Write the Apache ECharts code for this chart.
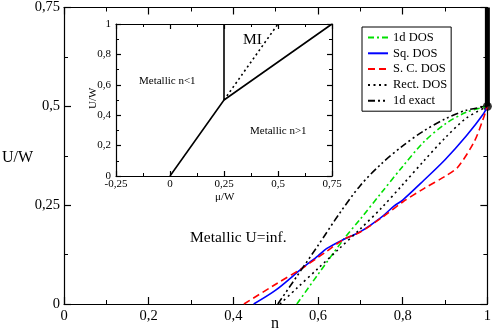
<!DOCTYPE html>
<html>
<head>
<meta charset="utf-8">
<script src="https://cdn.jsdelivr.net/npm/echarts@6/dist/echarts.min.js"></script>
<style>
  html, body { margin: 0; padding: 0; background: #fff; }
  #chart { width: 494px; height: 334px; }
</style>
</head>
<body>
<div id="chart"></div>
<script>
// main plot: U/W vs n for U = inf
const n1d = [0.55, 0.6, 0.66, 0.7, 0.75, 0.8, 0.85, 0.9, 0.95, 1]
const u1d = [0, 0.075, 0.163, 0.215, 0.282, 0.348, 0.41, 0.455, 0.485, 0.5]

const nSq = [0.448, 0.5, 0.562, 0.6, 0.62, 0.66, 0.7, 0.75, 0.78, 0.8, 0.85, 0.9, 0.95, 0.99, 1]
const uSq = [0, 0.035, 0.09, 0.122, 0.14, 0.163, 0.183, 0.22, 0.248, 0.263, 0.313, 0.365, 0.425, 0.48, 0.5]

const nSc = [0.425, 0.5, 0.562, 0.6, 0.62, 0.66, 0.7, 0.75, 0.8, 0.85, 0.9, 0.93, 0.97, 0.99, 1]
const uSc = [0, 0.05, 0.09, 0.118, 0.133, 0.163, 0.182, 0.218, 0.258, 0.292, 0.323, 0.346, 0.413, 0.468, 0.5]

const nRect = [0.51, 0.55, 0.6, 0.65, 0.7, 0.75, 0.8, 0.85, 0.9, 0.95, 1]
const uRect = [0, 0.04, 0.09, 0.14, 0.19, 0.243, 0.302, 0.362, 0.42, 0.47, 0.5]

const nExact = [0.505, 0.55, 0.6, 0.65, 0.7, 0.75, 0.8, 0.85, 0.9, 0.95, 1]
const uExact = [0, 0.07, 0.148, 0.228, 0.3, 0.355, 0.4, 0.438, 0.468, 0.49, 0.5]

// insulating segment at n = 1
const nIns = [1, 1]
const uIns = [0.5, 0.75]

// inset: phase diagram U/W vs mu/W
const muBound = [0, 0.25, 0.75]
const uBound = [0, 0.5, 1]
const muVert = [0.25, 0.25]
const uVert = [0.5, 1]
const muDot = [0.25, 0.5]
const uDot = [0.5, 1]

const FONT = '"Liberation Serif", "Times New Roman", serif'
const zip = (a, b) => a.map((v, i) => [v, b[i]])
const comma = v => String(v).replace('.', ',')

// one axis line with long ticks and labels
function majorAxis(o) {
  return {
    type: 'value', gridIndex: o.grid, position: o.pos, min: o.min, max: o.max, interval: o.step,
    axisLine: { show: true, onZero: false, lineStyle: { color: '#000', width: 1.2 } },
    axisTick: { show: true, inside: true, length: o.len, lineStyle: { color: '#000', width: 1.2 } },
    splitLine: { show: false },
    axisLabel: {
      show: !!o.labels, color: '#000', fontFamily: FONT, fontSize: o.fs, margin: o.margin || 5, formatter: comma,
    },
  }
}

// short ticks at half steps, no line or labels
function minorAxis(o) {
  return {
    type: 'value', gridIndex: o.grid, position: o.pos, min: o.min, max: o.max, interval: o.step / 2,
    axisLine: { show: false, onZero: false },
    axisTick: { show: true, inside: true, length: o.len, lineStyle: { color: '#000', width: 1 } },
    splitLine: { show: false },
    axisLabel: { show: false },
  }
}

const mainX = { grid: 0, min: 0, max: 1, step: 0.2, fs: 14.5, margin: 5 }
const mainY = { grid: 0, min: 0, max: 0.75, step: 0.25, fs: 14.5, margin: 4 }
const insX = { grid: 1, min: -0.25, max: 0.75, step: 0.25, fs: 11, margin: 3 }
const insY = { grid: 1, min: 0, max: 1, step: 0.2, fs: 11, margin: 5 }

function curve(name, xs, ys, color, type, width) {
  return {
    name, type: 'line', xAxisIndex: 0, yAxisIndex: 0,
    data: zip(xs, ys), smooth: 0.3, symbol: 'none',
    lineStyle: { color, type, width: width || 1.6 },
    itemStyle: { color },
  }
}

function insetLine(xs, ys, type) {
  return {
    type: 'line', xAxisIndex: 2, yAxisIndex: 2, data: zip(xs, ys),
    symbol: 'none', silent: true,
    lineStyle: { color: '#000', width: 1.6, type: type || 'solid' },
  }
}

const chart = echarts.init(document.getElementById('chart'))

chart.setOption({
  animation: false,
  grid: [
    { left: 64, top: 7, right: 4, bottom: 30 },
    { left: 116, top: 24, width: 216, height: 152, show: true, backgroundColor: '#fff', borderWidth: 0 },
  ],
  xAxis: [
    majorAxis({ ...mainX, pos: 'bottom', len: 7, labels: true }),
    majorAxis({ ...mainX, pos: 'top', len: 7 }),
    majorAxis({ ...insX, pos: 'bottom', len: 5, labels: true }),
    majorAxis({ ...insX, pos: 'top', len: 5 }),
    minorAxis({ ...mainX, pos: 'bottom', len: 4 }),
    minorAxis({ ...mainX, pos: 'top', len: 4 }),
    minorAxis({ ...insX, pos: 'bottom', len: 3 }),
    minorAxis({ ...insX, pos: 'top', len: 3 }),
  ],
  yAxis: [
    majorAxis({ ...mainY, pos: 'left', len: 7, labels: true }),
    majorAxis({ ...mainY, pos: 'right', len: 7 }),
    majorAxis({ ...insY, pos: 'left', len: 5, labels: true }),
    majorAxis({ ...insY, pos: 'right', len: 5 }),
    minorAxis({ ...mainY, pos: 'left', len: 4 }),
    minorAxis({ ...mainY, pos: 'right', len: 4 }),
    minorAxis({ ...insY, pos: 'left', len: 3 }),
    minorAxis({ ...insY, pos: 'right', len: 3 }),
  ],
  legend: {
    orient: 'vertical', left: 362, top: 27,
    data: ['1d DOS', 'Sq. DOS', 'S. C. DOS', 'Rect. DOS', '1d exact'],
    itemWidth: 20, itemHeight: 10, itemGap: 2.8,
    padding: [4, 4, 4, 5],
    borderColor: '#000', borderWidth: 1, backgroundColor: '#fff',
    itemStyle: { opacity: 0 },
    textStyle: { color: '#000', fontFamily: FONT, fontSize: 12.5 },
  },
  series: [
    curve('1d DOS', n1d, u1d, '#00e000', [6, 3, 2, 3]),
    curve('Sq. DOS', nSq, uSq, '#0000ff', 'solid'),
    curve('S. C. DOS', nSc, uSc, '#ff0000', [7, 4]),
    curve('Rect. DOS', nRect, uRect, '#000', [2, 3.5]),
    curve('1d exact', nExact, uExact, '#000', [7, 3, 2, 3, 2, 3]),
    {
      type: 'line', xAxisIndex: 0, yAxisIndex: 0, data: zip(nIns, uIns),
      symbol: 'none', clip: false, silent: true, lineStyle: { color: '#000', width: 5 },
    },
    {
      type: 'scatter', xAxisIndex: 0, yAxisIndex: 0, data: [[nIns[0], uIns[0]]],
      symbolSize: 9, clip: false, silent: true, itemStyle: { color: '#000' },
    },
    insetLine(muBound, uBound),
    insetLine(muVert, uVert),
    insetLine(muDot, uDot, [2, 3]),
  ],
  graphic: [
    { type: 'text', left: 2, top: 150, style: { text: 'U/W', font: '16px "Liberation Serif"', fill: '#000' } },
    { type: 'text', left: 271, top: 316, style: { text: 'n', font: '16px "Liberation Serif"', fill: '#000' } },
    { type: 'text', left: 190, top: 230, style: { text: 'Metallic U=inf.', font: '15.5px "Liberation Serif"', fill: '#000' } },
    { type: 'text', left: 139, top: 76, style: { text: 'Metallic n<1', font: '11px "Liberation Serif"', fill: '#000' } },
    { type: 'text', left: 250, top: 126, style: { text: 'Metallic n>1', font: '11px "Liberation Serif"', fill: '#000' } },
    { type: 'text', left: 243, top: 32, style: { text: 'MI', font: '15.5px "Liberation Serif"', fill: '#000' } },
    { type: 'text', left: 215, top: 192, style: { text: 'μ/W', font: '11px "Liberation Serif"', fill: '#000' } },
    { type: 'text', x: 88, y: 109, rotation: Math.PI / 2, style: { text: 'U/W', font: '11px "Liberation Serif"', fill: '#000' } },
  ],
})

window.addEventListener('resize', () => chart.resize())
</script>
</body>
</html>
